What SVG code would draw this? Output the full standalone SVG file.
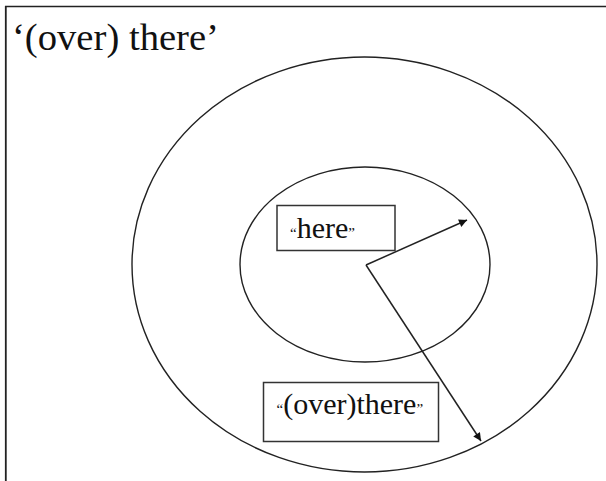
<svg xmlns="http://www.w3.org/2000/svg" width="606" height="481" viewBox="0 0 606 481">
<defs>
<style>
.ln{fill:none;stroke:#222;stroke-width:1.4}
.box{fill:#fff;stroke:#333;stroke-width:1.5}
.t{fill:#111;font-family:'Liberation Serif','Times New Roman',serif}
.q{font-size:15px}
.con{fill:none;stroke:#222;stroke-width:1.5}
</style>
<marker id="ah" viewBox="0 0 10 10" refX="10" refY="5" markerWidth="10" markerHeight="8" markerUnits="userSpaceOnUse" orient="auto">
<path d="M0,0 L10,5 L0,10 Z" fill="#111"/>
</marker>
</defs>
<rect width="606" height="481" fill="#fff"/>
<g id="frame">
<line x1="5" y1="6.5" x2="606" y2="6.5" stroke="#222" stroke-width="1.6"/>
<line x1="5.8" y1="6" x2="5.8" y2="481" stroke="#222" stroke-width="1.8"/>
</g>
<g id="title">
<text class="t" x="12" y="50" font-size="38" textLength="207" lengthAdjust="spacingAndGlyphs">‘(over) there’</text>
</g>
<g id="outer">
<ellipse class="ln" cx="364.5" cy="264.5" rx="232.5" ry="207.5"/>
</g>
<g id="inner">
<ellipse class="ln" cx="365" cy="264.5" rx="125" ry="97.5"/>
</g>
<g id="here">
<rect class="box" x="277" y="205.5" width="118" height="45"/>
<text class="t" x="290" y="238" font-size="30"><tspan class="q">“</tspan>here<tspan class="q">”</tspan></text>
</g>
<g id="overthere">
<rect class="box" x="263.5" y="382.5" width="175" height="59"/>
<text class="t" x="276.5" y="414" font-size="30"><tspan class="q">“</tspan>(over)there<tspan class="q">”</tspan></text>
</g>
<g id="connectors">
<line class="con" x1="366" y1="265" x2="467" y2="220" marker-end="url(#ah)"/>
<line class="con" x1="366" y1="265" x2="481" y2="441" stroke-width="1" marker-end="url(#ah)"/>
</g>
</svg>
